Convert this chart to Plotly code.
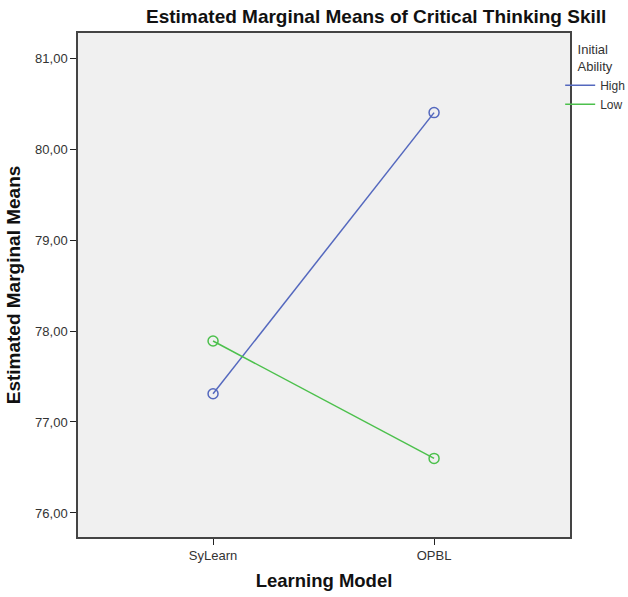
import plotly.graph_objects as go

categories = ["SyLearn", "OPBL"]
high_vals = [77.31, 80.40]
low_vals = [77.89, 76.60]
ytick_vals = [76, 77, 78, 79, 80, 81]
ytick_text = ["76,00", "77,00", "78,00", "79,00", "80,00", "81,00"]

x_pos = list(range(len(categories)))
blue = "#5468BE"
green = "#4CC04C"

fig = go.Figure()
for name, vals, col in [("High", high_vals, blue), ("Low", low_vals, green)]:
    fig.add_trace(go.Scatter(x=x_pos, y=vals, mode="lines", name=name,
                             line=dict(color=col, width=1.5)))
for name, vals, col in [("High", high_vals, blue), ("Low", low_vals, green)]:
    fig.add_trace(go.Scatter(x=x_pos, y=vals, mode="markers", showlegend=False,
                             marker=dict(symbol="circle-open", size=10,
                                         color=col, line=dict(width=1.5, color=col))))

fig.update_layout(
    width=628, height=597,
    margin=dict(l=78, r=58, t=33, b=60, autoexpand=False),
    paper_bgcolor="white",
    plot_bgcolor="#F0F0F0",
    font=dict(family="Liberation Sans, Arial, sans-serif", size=13, color="#333"),
    title=dict(text="<b>Estimated Marginal Means of Critical Thinking Skill</b>",
               x=0.599, xanchor="center", y=0.972, yanchor="middle",
               font=dict(size=19, color="#111")),
    showlegend=True,
    legend=dict(title=dict(text="Initial<br>Ability", side="top center",
                           font=dict(size=13, color="#333")),
                xref="container", yref="container",
                x=0.892, xanchor="left", y=0.938, yanchor="top",
                font=dict(size=12, color="#333"), bgcolor="rgba(0,0,0,0)",
                itemwidth=30, tracegroupgap=0),
    xaxis=dict(range=[-0.611, 1.615], tickvals=x_pos, ticktext=categories,
               automargin=False,
               showgrid=False, zeroline=False, ticks="outside", ticklen=6,
               tickcolor="#222", showline=True, linecolor="#444", linewidth=1.5,
               mirror=True, tickfont=dict(size=13),
               title=dict(text="<b>Learning Model</b>", font=dict(size=18.5, color="#111"),
                          standoff=12)),
    yaxis=dict(range=[75.736, 81.275], tickvals=ytick_vals, ticktext=ytick_text,
               automargin=False,
               showgrid=False, zeroline=False, ticks="outside", ticklen=6,
               tickcolor="#222", showline=True, linecolor="#444", linewidth=1.5,
               mirror=True, tickfont=dict(size=13),
               title=dict(text="<b>Estimated Marginal Means</b>", font=dict(size=19, color="#111"),
                          standoff=9)),
)

fig.write_html("out.html", config={"displayModeBar": False},
               post_script="document.body.style.margin='0';document.body.style.overflow='hidden';")
